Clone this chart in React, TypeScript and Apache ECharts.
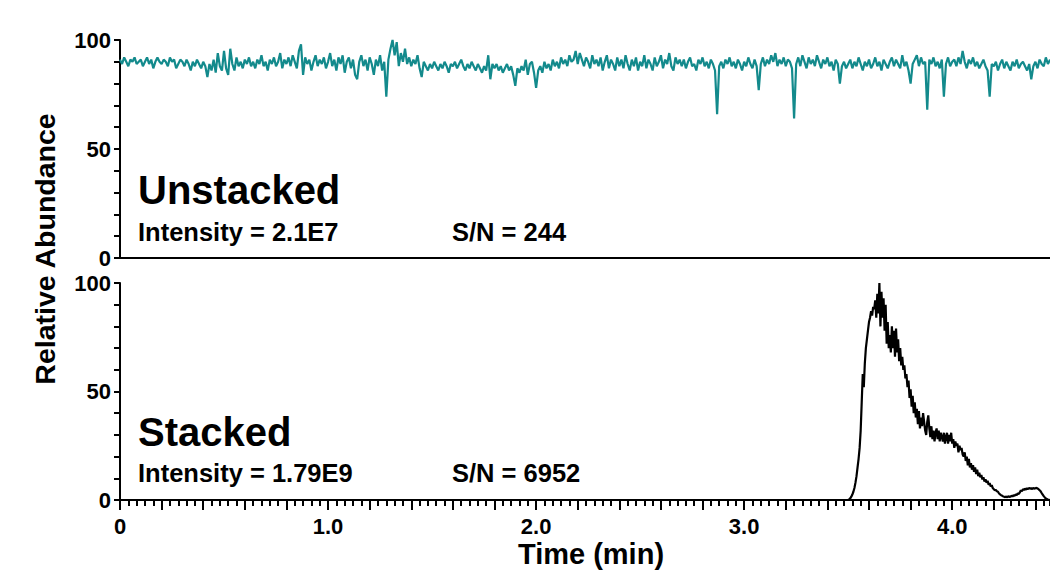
import React, { useEffect, useRef } from "react";
import * as echarts from "echarts";

const X_MAX = 4.47;
const TOP_STEP = 0.01;
const STACK_START = 3.45;
const STACK_STEP = 0.005;

const xTickLabels: Record<string, string> = { "0": "0", "1": "1.0", "2": "2.0", "3": "3.0", "4": "4.0" };
const yTickLabels: Record<string, string> = { "0": "0", "50": "50", "100": "100" };

// Unstacked trace, sampled every 0.01 min from 0 to 4.47
const unstackedValues: number[] = [
  91, 89, 92, 90, 88, 91, 90, 92, 89, 90,
  91, 88, 90, 92, 89, 91, 87, 90, 92, 90,
  89, 91, 90, 88, 92, 90, 91, 87, 89, 91,
  90, 88, 91, 89, 86, 90, 88, 91, 89, 87,
  90, 88, 83, 89, 86, 91, 85, 94, 88, 86,
  95, 87, 84, 96, 89, 86, 92, 88, 90, 87,
  91, 89, 92, 88, 90, 87, 91, 89, 93, 88,
  90, 86, 91, 89, 92, 88, 90, 94, 87, 91,
  89, 92, 88, 93, 90, 87, 95, 98, 84, 92,
  89, 91, 86, 90, 93, 88, 91, 89, 92, 87,
  90, 94, 88, 91, 86, 92, 89, 93, 85, 90,
  92, 87, 91, 84, 82, 90, 93, 88, 91, 86,
  92, 89, 84, 91, 88, 93, 86, 90, 74, 91,
  96, 100, 93, 99, 88, 94, 90, 96, 89, 92,
  88, 91, 89, 93, 87, 83, 90, 88, 86, 89,
  87, 90, 88, 86, 89, 87, 90, 88, 85, 89,
  88, 90, 87, 89, 91, 88, 86, 89, 87, 90,
  88, 86, 89, 87, 85, 88, 86, 93, 82, 89,
  87, 89, 86, 88, 85, 87, 89, 86, 88, 84,
  79, 87, 85, 88, 86, 91, 84, 89, 90, 85,
  78, 86, 88, 85, 90, 87, 89, 86, 91, 88,
  90, 87, 92, 89, 91, 88, 93, 90, 91, 95,
  89, 94, 91, 88, 92, 90, 87, 93, 89, 91,
  88, 92, 86, 90, 93, 87, 91, 89, 86, 92,
  88, 91, 87, 93, 89, 86, 91, 88, 92, 86,
  90, 88, 93, 87, 91, 89, 86, 92, 88, 90,
  93, 87, 91, 89, 94, 88, 86, 92, 89, 91,
  88, 91, 87, 90, 92, 88, 89, 86, 91, 89,
  92, 88, 90, 87, 91, 89, 86, 66, 88, 90,
  87, 91, 89, 92, 88, 90, 87, 91, 89, 86,
  90, 88, 92, 89, 87, 91, 88, 77, 89, 92,
  88, 91, 89, 93, 90, 94, 88, 91, 89, 92,
  88, 91, 90, 87, 64, 89, 92, 88, 93, 90,
  87, 92, 89, 91, 88, 93, 90, 87, 91, 89,
  92, 88, 90, 86, 91, 89, 80, 88, 90, 87,
  89, 91, 87, 90, 88, 92, 89, 86, 90, 88,
  91, 87, 89, 92, 88, 90, 86, 91, 89, 87,
  90, 92, 88, 91, 89, 87, 93, 88, 90, 86,
  80, 89, 91, 93, 88, 92, 89, 90, 68, 91,
  89, 92, 88, 90, 87, 91, 74, 89, 92, 88,
  90, 91, 88, 92, 89, 95, 90, 87, 91, 89,
  92, 88, 90, 87, 89, 91, 88, 86, 74, 89,
  88, 90, 86, 89, 91, 87, 90, 88, 86, 90,
  88, 91, 87, 89, 90, 88, 86, 89, 82, 88,
  90, 87, 91, 89, 88, 92, 89, 91,
];

// Stacked trace: flat at 0 until 3.45 min, then sampled every 0.005 min
const stackedValues: number[] = [
  0, 0, 0, 0, 0, 0, 0, 0, 0, 0, 0,
  0.3, 0.8, 1.5, 2.5, 3.8, 5.5, 8, 11, 15, 19,
  24, 32, 45, 58, 52, 63, 70, 74, 78, 82,
  84, 87, 85, 89, 88, 92, 84, 95, 86, 100,
  80, 96, 84, 93, 78, 90, 72, 82, 70, 76,
  68, 80, 70, 78, 66, 79, 68, 74, 64, 70,
  62, 66, 60, 62, 56, 58, 52, 55, 47, 51,
  43, 48, 40, 45, 38, 42, 35, 41, 33, 38,
  34, 40, 36, 32, 30, 36, 39, 33, 29, 34,
  28, 32, 27, 31, 33, 28, 32, 27, 31, 29,
  27, 31, 26, 29, 31, 26, 30, 27, 31, 26,
  28, 24, 27, 25, 26, 22, 25, 23, 24, 21,
  20, 22, 18, 20, 16, 19, 15, 17, 14, 16,
  13, 15, 12, 14, 11, 12.5, 10.5, 11.5, 9.5, 10.5,
  8.5, 9.5, 8, 8.8, 7, 7.8, 6.2, 6.8, 5.5, 5,
  4.5, 4.6, 4, 3.8, 3, 2.6, 2.2, 2, 1.6, 1.5,
  1.3, 1.6, 1.2, 1.8, 1.4, 1.5, 2, 1.6, 2.2, 2,
  2.5, 2.3, 3, 2.8, 3.5, 4.5, 4, 5, 4.6, 5.2,
  4.8, 5.4, 5, 5.6, 5.2, 5.5, 5, 5.6, 5.2, 5.4,
  5.6, 5.3, 5, 4.5, 4, 3.2, 2.5, 1.8, 1.2, 0.7,
  0.4, 0.2, 0.1, 0,
];

const panelTexts = [
  { text: "Unstacked", x: 138, y: 190, size: 40 },
  { text: "Intensity = 2.1E7", x: 138, y: 232, size: 25.5 },
  { text: "S/N = 244", x: 452, y: 232, size: 25.5 },
  { text: "Stacked", x: 138, y: 432, size: 40 },
  { text: "Intensity = 1.79E9", x: 138, y: 473, size: 25.5 },
  { text: "S/N = 6952", x: 452, y: 473, size: 25.5 },
];

const FONT = "'Liberation Sans', Arial, Helvetica, sans-serif";

function keyOf(v: number) {
  return String(Math.round(v * 1000) / 1000);
}

export default function App() {
  const ref = useRef<HTMLDivElement>(null);
  useEffect(() => {
    document.body.style.margin = "0";
    if (!ref.current) return;
    const chart = echarts.init(ref.current, undefined, { renderer: "svg" });
    const topData = unstackedValues.map((v, i) => [i * TOP_STEP, v]);
    const botData = [[0, 0], ...stackedValues.map((v, i) => [STACK_START + i * STACK_STEP, v])];

    const axisLine = { show: true, lineStyle: { color: "#000", width: 2 } };
    const labelStyle = { color: "#000", fontWeight: "bold" as const, fontFamily: FONT, fontSize: 22 };

    const yAxisBase = (gridIndex: number) => ({
      type: "value" as const,
      gridIndex,
      position: "left" as const,
      min: 0,
      max: 100,
      interval: 10,
      axisLine,
      axisTick: { show: true, length: 6, lineStyle: { color: "#000", width: 2 } },
      axisLabel: {
        ...labelStyle,
        margin: 9,
        formatter: (v: number) => yTickLabels[keyOf(v)] ?? "",
      },
      splitLine: { show: false },
    });

    chart.setOption({
      animation: false,
      backgroundColor: "#fff",
      grid: [
        { left: 120, top: 40, width: 930, height: 218, containLabel: false },
        { left: 120, top: 283, width: 930, height: 217, containLabel: false },
      ],
      xAxis: [
        {
          type: "value",
          gridIndex: 0,
          position: "bottom",
          min: 0,
          max: X_MAX,
          axisLine,
          axisTick: { show: false },
          axisLabel: { show: false },
          splitLine: { show: false },
        },
        {
          type: "value",
          gridIndex: 1,
          position: "bottom",
          offset: 0,
          min: 0,
          max: X_MAX,
          interval: 0.04,
          axisLine,
          axisTick: { show: true, length: 6, lineStyle: { color: "#000", width: 2 } },
          axisLabel: { show: false },
          splitLine: { show: false },
        },
        {
          type: "value",
          gridIndex: 1,
          position: "bottom",
          offset: 0,
          min: 0,
          max: X_MAX,
          interval: 0.2,
          axisLine,
          axisTick: { show: true, length: 10, lineStyle: { color: "#000", width: 2 } },
          axisLabel: {
            ...labelStyle,
            margin: 15,
            showMaxLabel: false,
            formatter: (v: number) => xTickLabels[keyOf(v)] ?? "",
          },
          splitLine: { show: false },
        },
      ],
      yAxis: [yAxisBase(0), yAxisBase(1)],
      series: [
        {
          type: "line",
          xAxisIndex: 0,
          yAxisIndex: 0,
          data: topData,
          showSymbol: false,
          symbol: "none",
          lineStyle: { color: "#138a8c", width: 2.2 },
          clip: false,
        },
        {
          type: "line",
          xAxisIndex: 2,
          yAxisIndex: 1,
          data: botData,
          showSymbol: false,
          symbol: "none",
          lineStyle: { color: "#000", width: 2.2 },
          clip: false,
        },
      ],
      graphic: [
        ...panelTexts.map((t) => ({
          type: "text",
          x: t.x,
          y: t.y,
          style: {
            text: t.text,
            font: `bold ${t.size}px ${FONT}`,
            fill: "#000",
            textAlign: "left",
            textVerticalAlign: "middle",
          },
        })),
        {
          type: "text",
          x: 591,
          y: 554,
          style: {
            text: "Time (min)",
            font: `bold 29px ${FONT}`,
            fill: "#000",
            textAlign: "center",
            textVerticalAlign: "middle",
          },
        },
        {
          type: "text",
          x: 45,
          y: 249,
          rotation: Math.PI / 2,
          style: {
            text: "Relative Abundance",
            font: `bold 28.5px ${FONT}`,
            fill: "#000",
            textAlign: "center",
            textVerticalAlign: "middle",
          },
        },
      ],
    });
    return () => chart.dispose();
  }, []);
  return <div ref={ref} style={{ width: 1050, height: 575 }} />;
}
